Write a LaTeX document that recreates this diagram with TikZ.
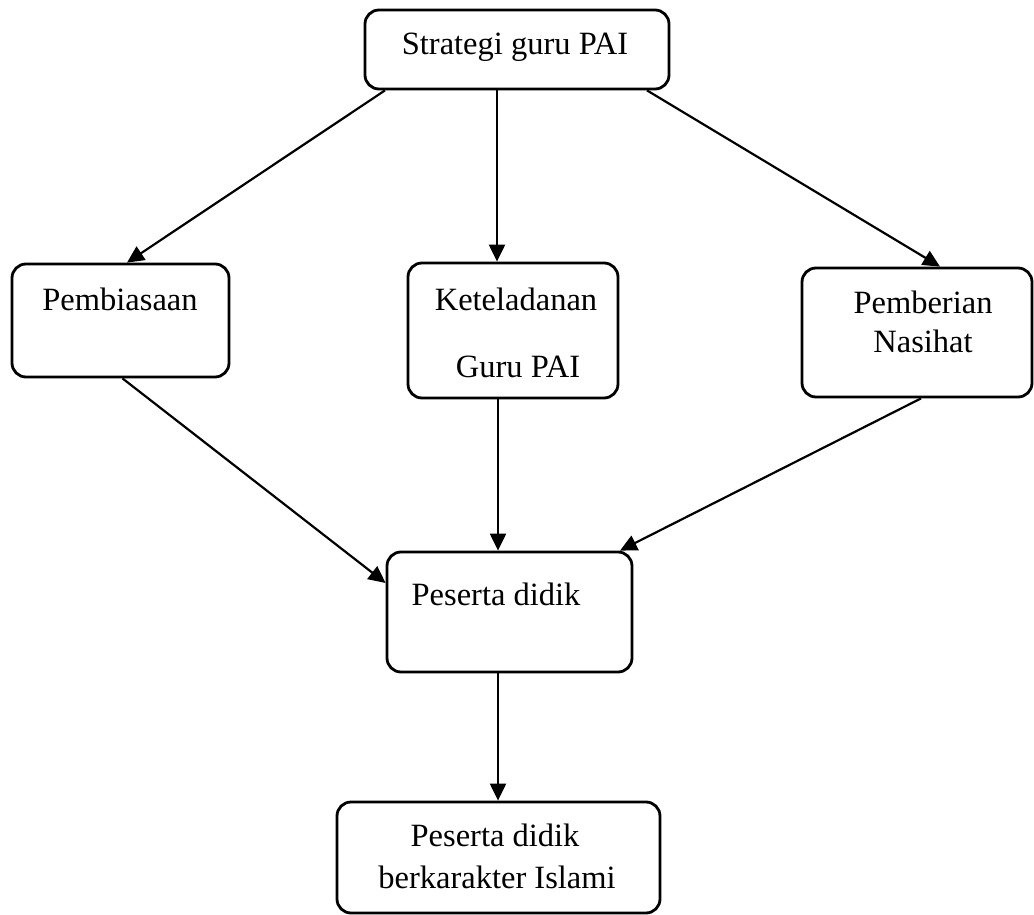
\documentclass[tikz,border=0pt]{standalone}
\usepackage{fontspec}
\setmainfont{Liberation Serif}
\usetikzlibrary{arrows.meta}

\begin{document}
\begin{tikzpicture}[x=1pt,y=-1pt,
    kotak/.style={draw,line width=2.8pt,rounded corners=14pt,inner sep=0pt},
    teks/.style={anchor=base,inner sep=0pt,font=\fontsize{32.5}{38}\selectfont},
    panah/.style={line width=2.2pt,-{Triangle[length=17pt,width=16pt]}}]

        \useasboundingbox (0,0) rectangle (1034,915);

        \node[kotak,minimum width=304pt,minimum height=79pt] (strategi) at (517,49.5) {};
        \node[kotak,minimum width=217pt,minimum height=113pt] (biasa) at (120.5,320.5) {};
        \node[kotak,minimum width=210pt,minimum height=135pt] (teladan) at (513,330.5) {};
        \node[kotak,minimum width=230pt,minimum height=129pt] (nasihat) at (917,332.5) {};
        \node[kotak,minimum width=245pt,minimum height=120pt] (didik) at (509.5,612) {};
        \node[kotak,minimum width=323pt,minimum height=111pt] (islami) at (498.5,857.5) {};

        \node[teks] (t-strategi) at (515,55) {Strategi guru PAI};
        \node[teks] (t-biasa) at (120,310) {Pembiasaan};
        \node[teks] (t-teladan1) at (516,310) {Keteladanan};
        \node[teks] (t-teladan2) at (518,377) {Guru PAI};
        \node[teks] (t-nasihat1) at (923,313) {Pemberian};
        \node[teks] (t-nasihat2) at (923,352) {Nasihat};
        \node[teks] (t-didik) at (496,605) {Peserta didik};
        \node[teks] (t-islami1) at (495,846) {Peserta didik};
        \node[teks] (t-islami2) at (497,888) {berkarakter Islami};

        \draw[panah] ([xshift=-132pt]strategi.south) -- ([xshift=6.5pt]biasa.north);
        \draw[panah] ([xshift=-20pt]strategi.south) -- ([xshift=-16pt]teladan.north);
        \draw[panah] ([xshift=130pt]strategi.south) -- ([xshift=23pt]nasihat.north);

        \draw[panah] ([xshift=2pt]biasa.south) -- ([yshift=29pt]didik.west);
        \draw[panah] ([xshift=-15pt]teladan.south) -- ([xshift=-11.5pt]didik.north);
        \draw[panah] ([xshift=4pt]nasihat.south) -- ([xshift=110.5pt]didik.north);

        \draw[panah] ([xshift=-11.5pt]didik.south) -- ([xshift=-0.5pt]islami.north);
      \end{tikzpicture}
\end{document}
